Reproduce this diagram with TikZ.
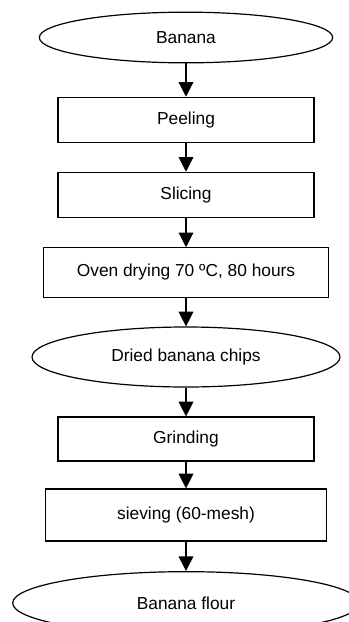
\documentclass[tikz,border=0pt]{standalone}
\usepackage{fontspec}
\setmainfont{Liberation Sans}
\usepackage{tikz}
\usetikzlibrary{shapes.geometric,arrows.meta}
\tikzset{stepbox/.style={draw,line width=0.9pt,minimum width=192pt,minimum height=34pt,inner sep=0pt,font=\fontsize{13}{15}\selectfont}}
\tikzset{endnode/.style={draw,ellipse,line width=0.9pt,inner sep=0pt,font=\fontsize{13}{15}\selectfont}}
\tikzset{flowarrow/.style={line width=0.9pt,-{Triangle[width=11pt,length=11pt]}}}

\begin{document}
\begin{tikzpicture}[x=0.75pt,y=-0.75pt]
		\useasboundingbox (0,0) rectangle (349,622);
		%
		\node[endnode,minimum width=220pt,minimum height=38pt] (banana) at (186,37.5) {Banana};
		\node[stepbox] (peel) at (186,120) {Peeling};
		\node[stepbox] (slice) at (186,195) {Slicing};
		\node[stepbox,minimum width=214pt,minimum height=37pt] (oven) at (186,272.5) {Oven drying 70 ºC, 80 hours};
		\node[endnode,minimum width=231pt,minimum height=45pt] (chips) at (186,357) {Dried banana chips};
		\node[stepbox,minimum height=33pt] (grind) at (186,439) {Grinding};
		\node[stepbox,minimum width=211pt,minimum height=39pt] (sieve) at (186,515) {sieving (60-mesh)};
		\node[endnode,minimum width=260pt,minimum height=47pt] (flour) at (186,603) {Banana flour};
		%
		\draw [flowarrow] (banana) edge (peel);
		\draw [flowarrow] (peel) edge (slice);
		\draw [flowarrow] (slice) edge (oven);
		\draw [flowarrow] (oven) edge (chips);
		\draw [flowarrow] (chips) edge (grind);
		\draw [flowarrow] (grind) edge (sieve);
		\draw [flowarrow] (sieve) edge (flour);
	\end{tikzpicture}
\end{document}
